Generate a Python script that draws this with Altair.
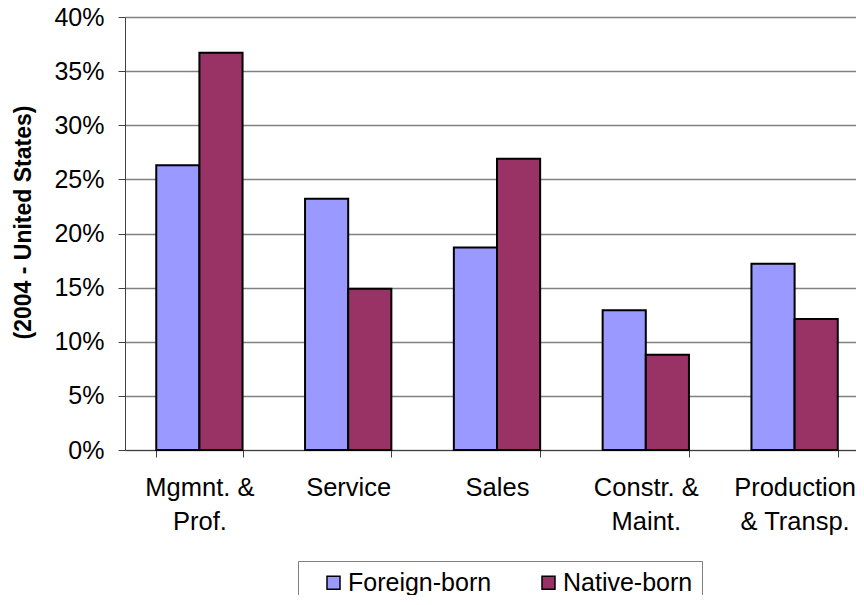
import altair as alt
import pandas as pd

categories = ["Mgmnt. &\nProf.", "Service", "Sales", "Constr. &\nMaint.", "Production\n& Transp."]
foreign_born = [26.3, 23.2, 18.7, 12.9, 17.2]
native_born = [36.7, 14.9, 26.9, 8.8, 12.1]
groups = ["Foreign-born", "Native-born"]
colors = ["#9999FF", "#993366"]
y_ticks = [0, 5, 10, 15, 20, 25, 30, 35, 40]

rows = []
for c, f, n in zip(categories, foreign_born, native_born):
    rows.append({"cat": c, "group": groups[0], "value": f / 100})
    rows.append({"cat": c, "group": groups[1], "value": n / 100})
df = pd.DataFrame(rows)

font = "Liberation Sans"

chart = alt.Chart(df).mark_bar(stroke="black", strokeWidth=2).encode(
    x=alt.X("cat:N", sort=categories,
            scale=alt.Scale(paddingInner=0.42, paddingOuter=0.21),
            axis=alt.Axis(title=None, labelAngle=0, labelExpr="split(datum.label, '\\n')",
                          labelFont=font, labelFontSize=25.5, labelColor="black",
                          labelLineHeight=34, labelPadding=18,
                          tickBand="extent", tickSize=7, tickColor="#404040", tickWidth=1,
                          domainColor="#404040", domainWidth=1, grid=False)),
    xOffset=alt.XOffset("group:N", sort=groups),
    y=alt.Y("value:Q",
            scale=alt.Scale(domain=[0, 0.4], nice=False),
            axis=alt.Axis(title="(2004 - United States)", format=".0%",
                          values=[v / 100 for v in y_ticks],
                          labelFont=font, labelFontSize=25, labelColor="black",
                          labelPadding=14, tickSize=7, tickColor="#404040", tickWidth=1,
                          domainColor="#404040", domainWidth=1,
                          grid=True, gridColor="#808080", gridWidth=1.5,
                          titleFont=font, titleFontSize=23, titleFontWeight="bold",
                          titleColor="black", titleAngle=270, titleAlign="center",
                          titleBaseline="middle", titleX=-102, titleY=205)),
    color=alt.Color("group:N", sort=groups,
                    scale=alt.Scale(domain=groups, range=colors),
                    legend=alt.Legend(title=None, orient="none", legendX=173, legendY=544,
                                      direction="horizontal", columns=2,
                                      symbolType="square", symbolSize=169,
                                      symbolStrokeColor="black", symbolStrokeWidth=1.5,
                                      symbolOffset=14,
                                      labelFont=font, labelFontSize=25, labelColor="black",
                                      labelOffset=2, columnPadding=30,
                                      strokeColor="#808080", padding=9)),
).properties(
    width=744, height=433,
    autosize=alt.AutoSizeParams(type="none"),
    padding={"left": 117, "top": 9, "right": -13, "bottom": 145},
).configure_view(stroke=None)

chart.save("out.html", embed_options={"renderer": "svg", "actions": False})
